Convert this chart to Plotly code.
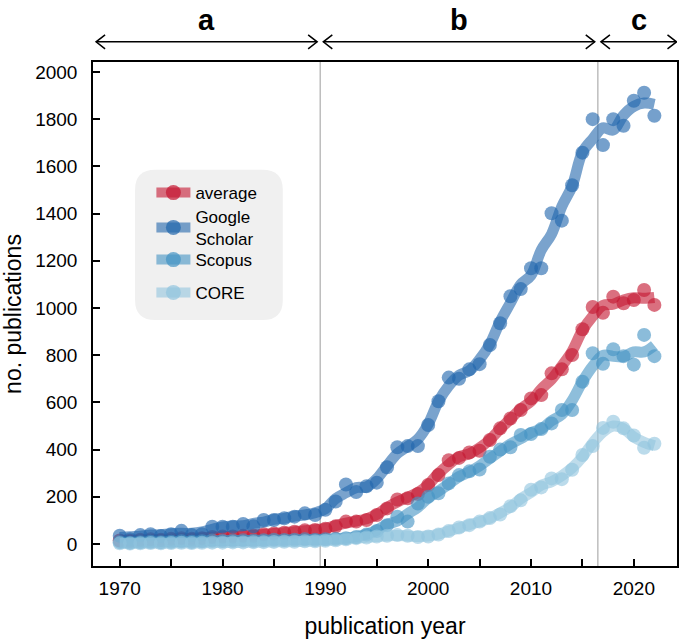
import pandas as pd
import plotly.graph_objects as go

# publications per year
years = list(range(1970, 2023))

average = [15, 14, 18, 20, 18, 22, 25, 22, 25, 30,
           32, 32, 35, 35, 42, 45, 48, 52, 58, 60,
           65, 75, 95, 95, 102, 123, 151, 189, 194, 212,
           250, 292, 355, 365, 388, 395, 441, 490, 532, 568,
           617, 631, 723, 740, 801, 910, 1004, 980, 1048, 1020,
           1034, 1076, 1013]

google_scholar = [35, 20, 38, 42, 34, 42, 56, 38, 42, 73,
                  73, 73, 85, 75, 102, 102, 109, 116, 130, 123,
                  145, 180, 252, 220, 245, 260, 325, 410, 415, 415,
                  504, 605, 705, 700, 740, 762, 843, 935, 1050, 1080,
                  1168, 1168, 1401, 1370, 1520, 1658, 1800, 1690, 1800, 1772,
                  1878, 1912, 1814]

scopus = [8, 6, 8, 10, 8, 10, 12, 10, 12, 15,
          14, 15, 16, 15, 16, 18, 17, 18, 20, 18,
          20, 22, 25, 30, 40, 55, 80, 116, 95, 172,
          200, 215, 257, 292, 308, 316, 370, 400, 410, 462,
          466, 487, 511, 568, 568, 688, 808, 764, 825, 796,
          760, 886, 796]

core = [3, 2, 3, 4, 3, 4, 5, 4, 5, 6,
        6, 7, 7, 8, 8, 9, 10, 10, 12, 12,
        14, 16, 20, 25, 28, 32, 35, 38, 35, 30,
        32, 40, 55, 70, 80, 95, 110, 125, 160, 185,
        230, 240, 278, 275, 315, 377, 415, 492, 518, 490,
        460, 408, 425]

series_names = ['average', 'Google<br>Scholar', 'Scopus', 'CORE']
series_colors = ['196,22,48', '33,102,172', '67,147,195', '146,197,222']
legend_ids = ['legend', 'legend2', 'legend3', 'legend4']
legend_y = [0.740, 0.671, 0.607, 0.542]

# period boundaries and labels
period_breaks = [1989.5, 2016.5]
period_labels = ['a', 'b', 'c']
x_range = [1967.4, 2024.2]
y_range = [-93, 2042]

FONT = 'Liberation Sans, Arial, sans-serif'

fig = go.Figure()

for name, vals, rgb, lg in zip(series_names, [average, google_scholar, scopus, core],
                               series_colors, legend_ids):
    smooth = pd.Series(vals, dtype=float).rolling(3, center=True, min_periods=1).mean()
    fig.add_scatter(x=years, y=smooth, mode='lines', line_shape='spline',
                    line=dict(color=f'rgba({rgb},0.6)', width=11),
                    showlegend=False, hoverinfo='skip')
    fig.add_scatter(x=years, y=vals, mode='markers',
                    marker=dict(color=f'rgba({rgb},0.62)', size=14, line_width=0),
                    showlegend=False, name=name)
    # legend entry (one small legend per series so the spacing can be set)
    fig.add_scatter(x=[None], y=[None], mode='lines+markers', name=name, legend=lg,
                    line=dict(color=f'rgba({rgb},0.6)', width=12),
                    marker=dict(color=f'rgba({rgb},0.7)', size=15))

# vertical separators
for xb in period_breaks:
    fig.add_vline(x=xb, line_color='#bdbdbd', line_width=1.5, layer='below')

# period arrows above the plot
edges = [x_range[0], *period_breaks, x_range[1]]
gap = 0.3
ya = 1.04
for i, lab in enumerate(period_labels):
    x0, x1 = edges[i] + gap, edges[i + 1] - gap
    if i == len(period_labels) - 1:
        x1 = edges[i + 1] - 0.05
    fig.add_shape(type='line', xref='x', yref='paper', x0=x0, x1=x1, y0=ya, y1=ya,
                  line=dict(color='black', width=1.5))
    fig.add_shape(type='path', xref='x', yref='paper', xsizemode='pixel', ysizemode='pixel',
                  xanchor=x0, yanchor=ya, path='M 9,7 L 0,0 L 9,-7',
                  line=dict(color='black', width=1.5))
    fig.add_shape(type='path', xref='x', yref='paper', xsizemode='pixel', ysizemode='pixel',
                  xanchor=x1, yanchor=ya, path='M -9,7 L 0,0 L -9,-7',
                  line=dict(color='black', width=1.5))
    fig.add_annotation(x=(x0 + x1) / 2, y=1.083, xref='x', yref='paper', text=f'<b>{lab}</b>',
                       showarrow=False, yanchor='middle',
                       font=dict(size=29, color='black', family=FONT))

# rounded legend background
lx0, lx1, ly0, ly1, rx, ry = 0.072, 0.325, 0.488, 0.786, 0.035, 0.04
fig.add_shape(type='path', xref='paper', yref='paper', layer='below',
              path=(f'M {lx0+rx},{ly0} L {lx1-rx},{ly0} Q {lx1},{ly0} {lx1},{ly0+ry} '
                    f'L {lx1},{ly1-ry} Q {lx1},{ly1} {lx1-rx},{ly1} L {lx0+rx},{ly1} '
                    f'Q {lx0},{ly1} {lx0},{ly1-ry} L {lx0},{ly0+ry} Q {lx0},{ly0} {lx0+rx},{ly0} Z'),
              fillcolor='#f0f0f0', line_width=0)

legend_style = dict(x=0.1, xanchor='left', yanchor='middle', bgcolor='rgba(0,0,0,0)',
                    font=dict(size=17), itemwidth=34)

fig.update_layout(
    width=680, height=644,
    margin=dict(l=93, r=3, t=62, b=78, autoexpand=False),
    plot_bgcolor='white', paper_bgcolor='white',
    font=dict(family=FONT, size=19, color='black'),
    showlegend=True,
    xaxis=dict(range=x_range, title=dict(text='publication year', font=dict(size=23), standoff=20),
               tickvals=[1970, 1980, 1990, 2000, 2010, 2020], ticks='inside', ticklen=7,
               tickwidth=1.5, tickcolor='black', showgrid=False, zeroline=False,
               showline=True, linecolor='black', linewidth=1.5, mirror=True,
               ticklabelstandoff=4,
               minor=dict(dtick=5, tick0=1970, ticks='inside', ticklen=7, tickwidth=1.5,
                          tickcolor='black', showgrid=False)),
    yaxis=dict(range=y_range, title=dict(text='no. publications', font=dict(size=23), standoff=13),
               tickvals=list(range(0, 2001, 200)), ticks='inside', ticklen=7, tickwidth=1.5,
               tickcolor='black', showgrid=False, zeroline=False, ticklabelstandoff=10,
               showline=True, linecolor='black', linewidth=1.5, mirror=True),
)
fig.update_layout({lg: dict(legend_style, y=ly) for lg, ly in zip(legend_ids, legend_y)})

# drop the default 8px page margin so the figure sits at the window origin
fig.write_html('out.html', config={'displayModeBar': False},
               post_script="document.body.style.margin='0';")
